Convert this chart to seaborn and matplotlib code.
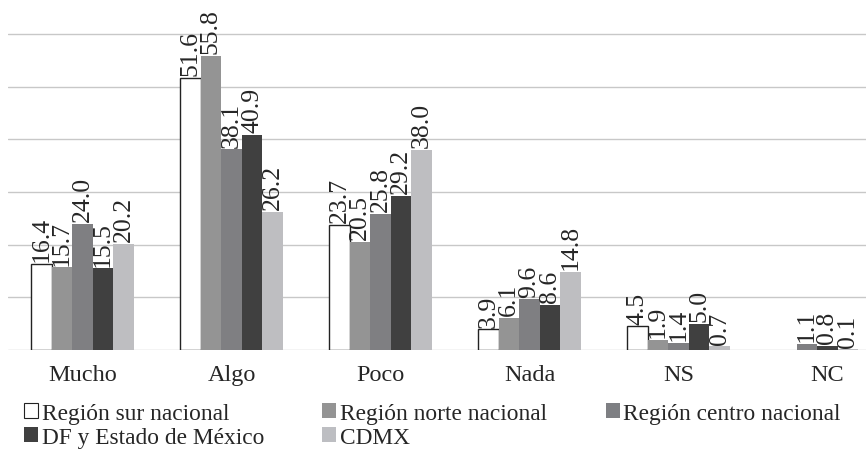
import numpy as np
import pandas as pd
import matplotlib
matplotlib.use("Agg")
import matplotlib.pyplot as plt
from matplotlib.patches import Patch
import seaborn as sns

# --- data ---
categories = ["Mucho", "Algo", "Poco", "Nada", "NS", "NC"]
series_names = ["Región sur nacional", "Región norte nacional", "Región centro nacional",
                "DF y Estado de México", "CDMX"]
sur = [16.4, 51.6, 23.7, 3.9, 4.5, np.nan]
norte = [15.7, 55.8, 20.5, 6.1, 1.9, np.nan]
centro = [24.0, 38.1, 25.8, 9.6, 1.4, 1.1]
df_edomex = [15.5, 40.9, 29.2, 8.6, 5.0, 0.8]
cdmx = [20.2, 26.2, 38.0, 14.8, 0.7, 0.1]

colors = ["#ffffff", "#949494", "#7e7f83", "#404040", "#bdbec2"]
palette = dict(zip(series_names, colors))

rows = []
for name, vals in zip(series_names, [sur, norte, centro, df_edomex, cdmx]):
    for cat, v in zip(categories, vals):
        rows.append({"cat": cat, "serie": name, "valor": v})
data = pd.DataFrame(rows).dropna()

sns.set_style("white")
plt.rcParams["font.family"] = "serif"
plt.rcParams["font.serif"] = ["Liberation Serif", "DejaVu Serif"]
FS = 17.5

fig = plt.figure(figsize=(8.66, 4.52), dpi=100)
# plot area runs past the right edge, as in the (cropped) reference
ax = fig.add_axes([8 / 866, 101 / 452, 894 / 866, 351 / 452])

group_w = 0.69
main = data[data["cat"] != "NC"]
sns.barplot(data=main, x="cat", y="valor", hue="serie", hue_order=series_names,
            order=categories[:-1], palette=palette, width=group_w, errorbar=None,
            linewidth=0, legend=False, ax=ax)

# NC only has three series; those bars sit centred under their label
nc = data[data["cat"] == "NC"]
nc_series = [s for s in series_names if s in set(nc["serie"])]
sns.barplot(data=nc, x="cat", y="valor", hue="serie", hue_order=nc_series,
            palette=palette, width=group_w * len(nc_series) / len(series_names),
            errorbar=None, linewidth=0, legend=False, ax=ax)

# white series gets a dark outline
for bar in ax.containers[0]:
    bar.set_edgecolor("#222222")
    bar.set_linewidth(1.0)

for cont in ax.containers:
    ax.bar_label(cont, fmt="%.1f", rotation=90, padding=2, fontsize=18.5)

ax.set_xlim(-0.5, 5.5)
ax.set_ylim(0, 66.65)
ax.set_yticks(np.arange(0, 61, 10))
ax.set_yticklabels([])
ax.yaxis.grid(True, color="#c8c8c8", linewidth=1.0)
ax.set_axisbelow(True)
ax.tick_params(axis="both", length=0)
ax.tick_params(axis="x", labelsize=FS, pad=10)
ax.set_xlabel("")
ax.set_ylabel("")
sns.despine(ax=ax, left=True, bottom=True)

# legend laid out row-wise: sur, norte, centro / DF, CDMX
handles = [Patch(facecolor=palette[s], edgecolor="#222222" if s == series_names[0] else palette[s],
                 linewidth=0.8 if s == series_names[0] else 0) for s in series_names]
order = [0, 3, 1, 4, 2]
fig.legend([handles[i] for i in order], [series_names[i] for i in order],
           ncol=3, loc="upper left", bbox_to_anchor=(24 / 866, 1 - 404 / 452),
           frameon=False, fontsize=16.8, borderpad=0, borderaxespad=0,
           handlelength=0.6, handleheight=0.6, handletextpad=0.16,
           columnspacing=2.5, labelspacing=0.12)

fig.savefig("out.png", dpi=100)
